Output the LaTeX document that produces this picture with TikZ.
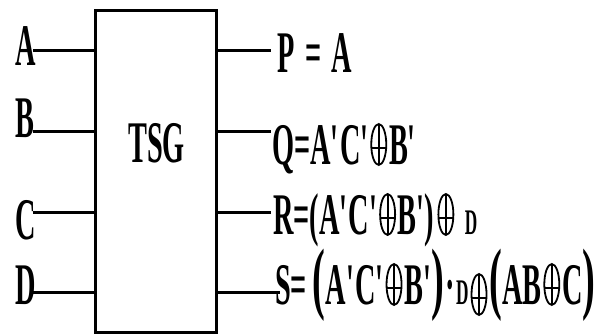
\documentclass[tikz,border=0pt]{standalone}
\usepackage{fontspec}
\setmainfont{Liberation Serif}
% narrow, tall lettering
\newcommand{\nrw}[1]{\scalebox{0.48}[1]{#1}}
% tall, slim circled plus (drawn at full width, undoing the narrowing)
\newcommand{\xo}{\hspace{4pt}\scalebox{2.0833}[1]{\tikz[baseline=0pt,line width=1.8pt]{%
  \draw (0pt,20.5pt) ellipse [x radius=7.5pt, y radius=20.5pt];
  \draw (0pt,0pt)--(0pt,41pt) (-7.5pt,17pt)--(7.5pt,17pt);}}\hspace{4pt}}
\newcommand{\pr}{\textquotesingle}
\newcommand{\bigp}[1]{{\fontsize{80}{80}\selectfont #1}}
\newcommand{\smD}{{\fontsize{36}{36}\selectfont D}}
\begin{document}
\begin{tikzpicture}[x=1pt,y=-1pt,
  lbl/.style={inner sep=0pt,anchor=base west,font=\fontsize{59}{59}\selectfont\bfseries},
  wire/.style={line width=3pt}]
\useasboundingbox (0,0) rectangle (603,336);
% gate body
\node[draw,line width=3pt,minimum width=121pt,minimum height=322pt,inner sep=0pt] (tsg) at (155.5,172) {};
\node[lbl] (tsglbl) at (128,163) {\nrw{TSG}};
% inputs
\node[lbl] (a) at (15,66) {\nrw{A}};
\node[lbl] (b) at (15,138) {\nrw{B}};
\node[lbl] (c) at (15,240) {\nrw{C}};
\node[lbl] (d) at (15,305) {\nrw{D}};
\coordinate (ia) at (33,51);
\coordinate (ib) at (33,132);
\coordinate (ic) at (33,213);
\coordinate (id) at (33,293);
\foreach \i in {ia,ib,ic,id} \draw[wire] (\i) -- (\i -| tsg.west);
% outputs
\coordinate (op) at (271,51);
\coordinate (oq) at (271,132);
\coordinate (or) at (271,213);
\coordinate (os) at (280,293);
\foreach \o in {op,oq,or,os} \draw[wire] (\o -| tsg.east) -- (\o);
\node[lbl] (p) at (277,73) {\nrw{P\hspace{22pt}=\hspace{22pt}A}};
\node[lbl] (q) at (272,165) {\nrw{Q=A\pr\hspace{3pt}C\pr\xo B\pr}};
\node[lbl] (r) at (273,235) {\nrw{R=(A\pr\hspace{3pt}C\pr\xo B\pr)\hspace{3pt}\xo\hspace{18pt}\smD}};
\node[lbl] (s) at (275,305) {\nrw{S=\hspace{12pt}\bigp{(}A\pr\hspace{3pt}C\pr\xo B\pr\bigp{)}\hspace{3pt}·\hspace{3pt}\smD\raisebox{-10pt}{\xo}\bigp{(}AB\xo C\bigp{)}}};
\end{tikzpicture}
\end{document}
